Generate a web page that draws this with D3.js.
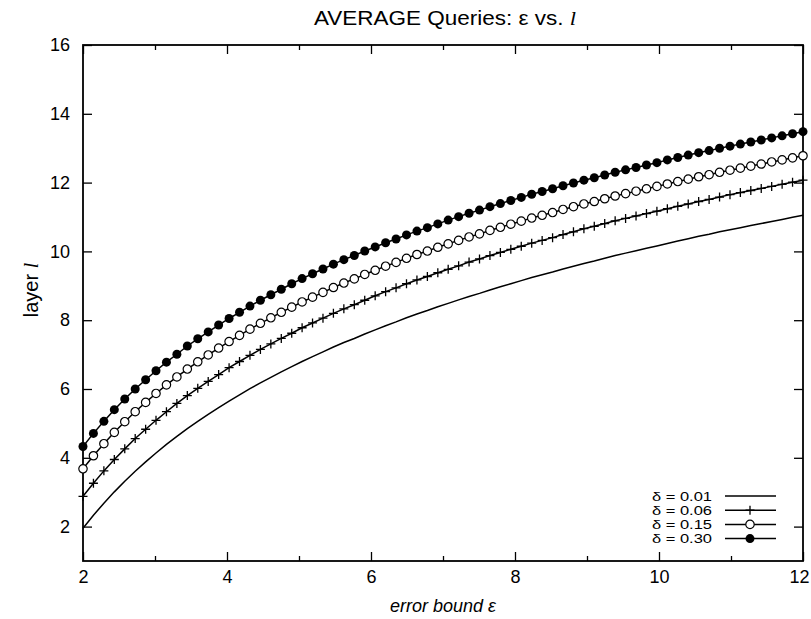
<!DOCTYPE html>
<html>
<head>
<meta charset="utf-8">
<script src="https://cdn.jsdelivr.net/npm/d3@7"></script>
<style>
  body { margin: 0; background: #fff; }
  svg { display: block; font-family: "Liberation Sans", Arial, sans-serif; }
  .tick line { stroke: #000; stroke-width: 1.3; }
  .tick text { fill: #000; }
</style>
</head>
<body>
<div id="chart"></div>
<script>
// sample points along the error bound axis (70 samples, 2..12)
var epsValues = [2.000, 2.145, 2.290, 2.435, 2.580, 2.725, 2.870, 3.014, 3.159, 3.304,
  3.449, 3.594, 3.739, 3.884, 4.029, 4.174, 4.319, 4.464, 4.609, 4.754,
  4.899, 5.043, 5.188, 5.333, 5.478, 5.623, 5.768, 5.913, 6.058, 6.203,
  6.348, 6.493, 6.638, 6.783, 6.928, 7.072, 7.217, 7.362, 7.507, 7.652,
  7.797, 7.942, 8.087, 8.232, 8.377, 8.522, 8.667, 8.812, 8.957, 9.101,
  9.246, 9.391, 9.536, 9.681, 9.826, 9.971, 10.116, 10.261, 10.406, 10.551,
  10.696, 10.841, 10.986, 11.130, 11.275, 11.420, 11.565, 11.710, 11.855, 12.000];

// layer l for each delta
var layer001 = [1.95, 2.33, 2.68, 3.01, 3.32, 3.61, 3.88, 4.14, 4.39, 4.62,
  4.85, 5.06, 5.26, 5.46, 5.65, 5.83, 6.01, 6.18, 6.34, 6.50,
  6.65, 6.80, 6.94, 7.08, 7.22, 7.35, 7.47, 7.60, 7.72, 7.84,
  7.95, 8.07, 8.18, 8.28, 8.39, 8.49, 8.59, 8.69, 8.78, 8.88,
  8.97, 9.06, 9.15, 9.24, 9.32, 9.40, 9.49, 9.57, 9.65, 9.72,
  9.80, 9.88, 9.95, 10.02, 10.09, 10.16, 10.23, 10.30, 10.37, 10.44,
  10.50, 10.57, 10.63, 10.69, 10.75, 10.81, 10.87, 10.93, 10.99, 11.05];

var layer006 = [2.88, 3.26, 3.62, 3.95, 4.26, 4.56, 4.83, 5.09, 5.34, 5.58,
  5.81, 6.02, 6.22, 6.42, 6.62, 6.80, 6.98, 7.15, 7.31, 7.47,
  7.62, 7.78, 7.92, 8.06, 8.20, 8.33, 8.45, 8.58, 8.71, 8.83,
  8.94, 9.06, 9.17, 9.27, 9.38, 9.48, 9.58, 9.69, 9.78, 9.88,
  9.97, 10.06, 10.15, 10.24, 10.32, 10.40, 10.49, 10.57, 10.66, 10.73,
  10.81, 10.89, 10.96, 11.03, 11.10, 11.17, 11.24, 11.31, 11.38, 11.45,
  11.51, 11.58, 11.65, 11.71, 11.77, 11.83, 11.89, 11.95, 12.01, 12.07];

var layer015 = [3.68, 4.06, 4.41, 4.74, 5.05, 5.34, 5.61, 5.87, 6.12, 6.35,
  6.58, 6.79, 6.99, 7.19, 7.38, 7.56, 7.74, 7.91, 8.07, 8.23,
  8.38, 8.53, 8.67, 8.81, 8.95, 9.08, 9.20, 9.33, 9.45, 9.57,
  9.68, 9.80, 9.91, 10.01, 10.12, 10.22, 10.32, 10.42, 10.51, 10.61,
  10.70, 10.79, 10.88, 10.97, 11.05, 11.13, 11.22, 11.30, 11.38, 11.45,
  11.53, 11.61, 11.68, 11.75, 11.82, 11.89, 11.96, 12.03, 12.10, 12.17,
  12.23, 12.30, 12.36, 12.42, 12.48, 12.54, 12.60, 12.66, 12.72, 12.78];

var layer030 = [4.33, 4.71, 5.06, 5.40, 5.71, 6.00, 6.27, 6.53, 6.78, 7.01,
  7.25, 7.46, 7.66, 7.86, 8.05, 8.23, 8.41, 8.58, 8.74, 8.90,
  9.06, 9.21, 9.35, 9.49, 9.63, 9.76, 9.88, 10.01, 10.13, 10.25,
  10.36, 10.48, 10.59, 10.69, 10.80, 10.91, 11.01, 11.11, 11.20, 11.30,
  11.39, 11.48, 11.57, 11.66, 11.74, 11.82, 11.91, 11.99, 12.07, 12.14,
  12.22, 12.30, 12.37, 12.44, 12.51, 12.58, 12.66, 12.73, 12.80, 12.87,
  12.93, 13.00, 13.06, 13.12, 13.18, 13.24, 13.30, 13.36, 13.42, 13.48];

var legendLabels = ["\u03b4 = 0.01", "\u03b4 = 0.06", "\u03b4 = 0.15", "\u03b4 = 0.30"];
var markerKinds = ["none", "plus", "open", "filled"];

var xMajorTicks = [2, 4, 6, 8, 10, 12];
var xMinorTicks = [3, 5, 7, 9, 11];
var yTicks = [2, 4, 6, 8, 10, 12, 14, 16];

var width = 811, height = 619;
var margin = {left: 83, right: 8, top: 45, bottom: 58};
var plotW = width - margin.left - margin.right;
var plotH = height - margin.top - margin.bottom;

var svg = d3.select("#chart").append("svg")
  .attr("width", width).attr("height", height);

var x = d3.scaleLinear().domain([2, 12]).range([0, plotW]);
var y = d3.scaleLinear().domain([1, 16]).range([plotH, 0]);

var g = svg.append("g").attr("transform", "translate(" + margin.left + "," + margin.top + ")");

// axes (ticks pointing inwards, mirrored like gnuplot)
var yAxis = g.append("g")
  .call(d3.axisLeft(y).tickValues(yTicks).tickSize(-9).tickPadding(13));
yAxis.selectAll("text").attr("font-size", 18);

g.append("g").attr("transform", "translate(" + plotW + ",0)")
  .call(d3.axisRight(y).tickValues(yTicks).tickSize(-9).tickFormat(""));

var xAxis = g.append("g").attr("transform", "translate(0," + plotH + ")")
  .call(d3.axisBottom(x).tickValues(xMajorTicks).tickSize(-9).tickPadding(9));
xAxis.selectAll("text").attr("font-size", 18)
  .attr("dx", function(d) { return d === 12 ? -4 : 0; });

g.append("g").attr("transform", "translate(0," + plotH + ")")
  .call(d3.axisBottom(x).tickValues(xMinorTicks).tickSize(-5).tickFormat(""));
g.append("g")
  .call(d3.axisTop(x).tickValues(xMajorTicks).tickSize(-9).tickFormat(""));
g.append("g")
  .call(d3.axisTop(x).tickValues(xMinorTicks).tickSize(-5).tickFormat(""));

g.selectAll(".domain").remove();

g.append("rect")
  .attr("width", plotW).attr("height", plotH)
  .attr("fill", "none").attr("stroke", "#000").attr("stroke-width", 1.8);

// series
var seriesList = [layer001, layer006, layer015, layer030];
var line = d3.line()
  .x(function(d, i) { return x(epsValues[i]); })
  .y(function(d) { return y(d); });

function drawMarker(sel, kind) {
  if (kind === "filled") {
    sel.append("circle").attr("r", 4.5).attr("fill", "#000");
  } else if (kind === "open") {
    sel.append("circle").attr("r", 4.2).attr("fill", "#fff")
      .attr("stroke", "#000").attr("stroke-width", 1.2);
  } else if (kind === "plus") {
    sel.append("path").attr("d", "M-4.5,0H4.5M0,-4.5V4.5")
      .attr("stroke", "#000").attr("stroke-width", 1.3);
  }
}

seriesList.forEach(function(vals, s) {
  g.append("path").datum(vals)
    .attr("d", line)
    .attr("fill", "none")
    .attr("stroke", "#000")
    .attr("stroke-width", 1.5);

  if (markerKinds[s] !== "none") {
    var pts = g.append("g").selectAll("g").data(vals).enter()
      .append("g")
      .attr("transform", function(d, i) { return "translate(" + x(epsValues[i]) + "," + y(d) + ")"; });
    drawMarker(pts, markerKinds[s]);
  }
});

// legend
var legend = g.append("g").attr("transform", "translate(" + (712 - margin.left) + "," + (496 - margin.top) + ")");
legendLabels.forEach(function(lab, i) {
  var row = legend.append("g").attr("transform", "translate(0," + (i * 14.2) + ")");
  row.append("text")
    .attr("text-anchor", "end")
    .attr("dy", "0.36em")
    .attr("font-size", 12.5)
    .attr("textLength", 60)
    .attr("lengthAdjust", "spacingAndGlyphs")
    .text(lab);
  row.append("line")
    .attr("x1", 13).attr("x2", 64)
    .attr("stroke", "#000").attr("stroke-width", 1.5);
  var m = row.append("g").attr("transform", "translate(38,0)");
  drawMarker(m, markerKinds[i]);
});

// title
var title = svg.append("text")
  .attr("x", 445).attr("y", 25)
  .attr("text-anchor", "middle")
  .attr("font-size", 19.5)
  .attr("textLength", 262)
  .attr("lengthAdjust", "spacingAndGlyphs");
title.append("tspan").text("AVERAGE Queries: \u03b5 vs. ");
title.append("tspan").attr("font-style", "italic").attr("font-family", "Liberation Serif").text("l");

// axis titles
svg.append("text")
  .attr("x", margin.left + plotW / 2).attr("y", 612)
  .attr("text-anchor", "middle")
  .attr("font-size", 18)
  .attr("font-style", "italic")
  .text("error bound \u03b5");

var yt = svg.append("text")
  .attr("transform", "translate(38,290) rotate(-90)")
  .attr("text-anchor", "middle")
  .attr("font-size", 20);
yt.append("tspan").text("layer ");
yt.append("tspan").attr("font-style", "italic").attr("font-family", "Liberation Serif").text("l");
</script>
</body>
</html>
